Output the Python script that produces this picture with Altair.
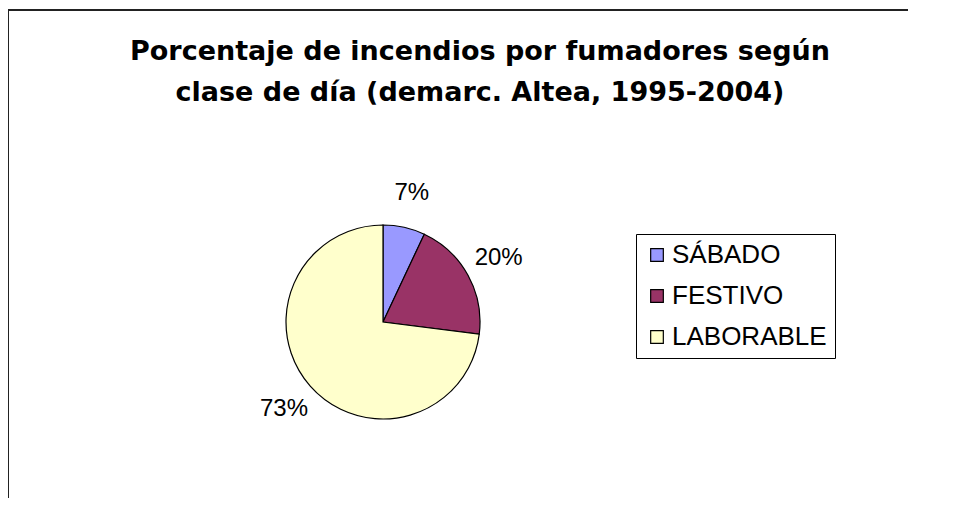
import altair as alt
import pandas as pd

categories = ["SÁBADO", "FESTIVO", "LABORABLE"]
values = [7, 20, 73]
labels = ["7%", "20%", "73%"]
colors = ["#9999FF", "#993366", "#FFFFCC"]
title_lines = ["Porcentaje de incendios por fumadores según", "clase de día (demarc. Altea, 1995-2004)"]

df = pd.DataFrame({"cat": categories, "val": values, "lab": labels, "ord": list(range(len(categories)))})

W, H = 900, 490
FONT = "Liberation Sans"

color = alt.Color(
    "cat:N",
    scale=alt.Scale(domain=categories, range=colors),
    legend=alt.Legend(
        title=None, orient="none", legendX=628, legendY=226,
        symbolType="square", symbolSize=160, symbolStrokeColor="black",
        symbolStrokeWidth=1.2, labelFontSize=26, labelFont=FONT, labelColor="black",
        rowPadding=15, padding=8, fillColor="white", strokeColor="black",
        labelOffset=2, labelLimit=400,
    ),
)

base = alt.Chart(df)

arc = base.mark_arc(stroke="black", strokeWidth=1.2).encode(
    theta=alt.Theta("val:Q", stack=True),
    order=alt.Order("ord:Q"),
    color=color,
    x=alt.value(375), y=alt.value(314), radius=alt.value(97),
)

text = base.mark_text(font=FONT, fontSize=24, color="black").encode(
    theta=alt.Theta("val:Q", stack=True),
    order=alt.Order("ord:Q"),
    text="lab:N",
    x=alt.value(375), y=alt.value(314), radius=alt.value(132),
)

title_df = pd.DataFrame({"t": [title_lines]})
title = alt.Chart(title_df).mark_text(
    font="DejaVu Sans", fontSize=27, fontWeight="bold", color="black",
    lineHeight=41, baseline="alphabetic", align="center",
).encode(text="t", x=alt.value(472), y=alt.value(52))

border_df = pd.DataFrame({"x1": [0, 0.5], "x2": [W, 0.5], "y1": [2, 2], "y2": [2, H], "w": [2, 1]})
border = alt.Chart(border_df).mark_rule(color="#222222").encode(
    x=alt.X("x1:Q", scale=None, axis=None), x2="x2:Q",
    y=alt.Y("y1:Q", scale=None, axis=None), y2="y2:Q",
    strokeWidth=alt.StrokeWidth("w:Q", scale=None, legend=None),
)

chart = alt.layer(border, arc, text, title).properties(
    width=W, height=H, autosize=alt.AutoSizeParams(type="none"), padding=0,
).configure_view(stroke=None)

chart.save("out.html", embed_options={"renderer": "svg", "actions": False})
